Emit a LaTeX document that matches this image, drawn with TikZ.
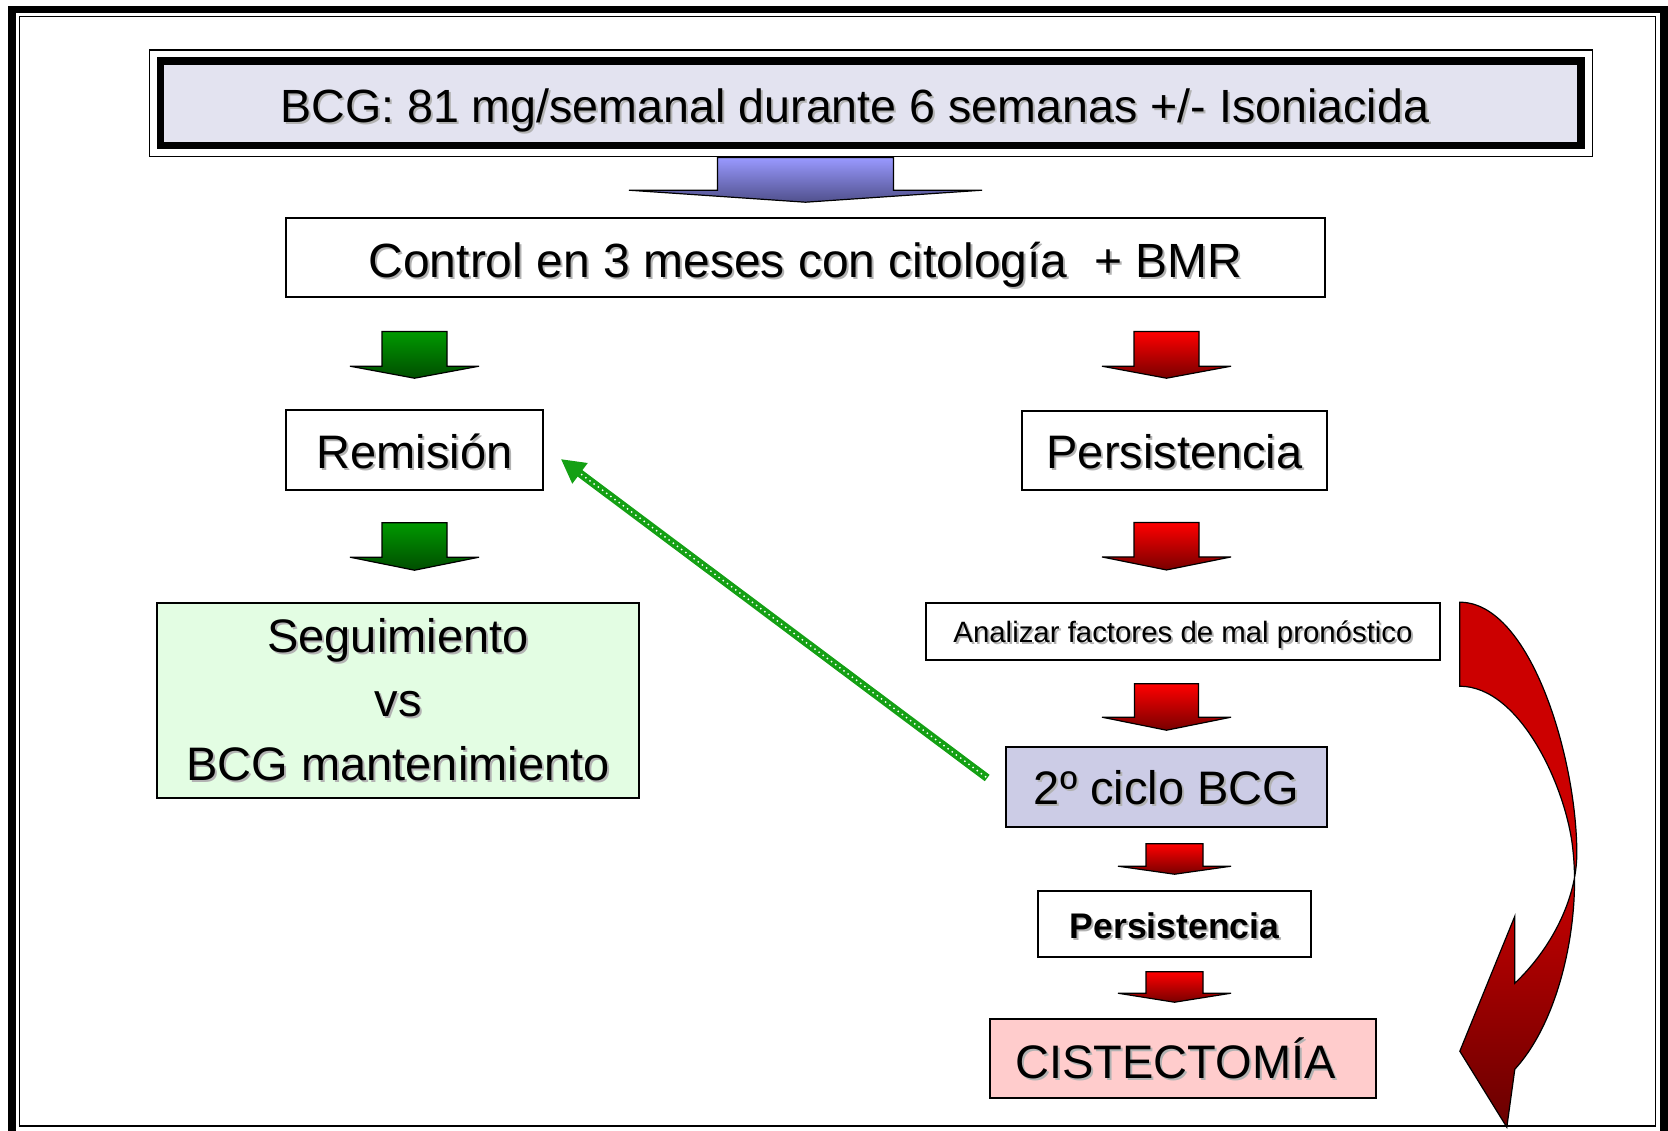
\documentclass[tikz,border=0pt]{standalone}
\usepackage{fontspec}
\setmainfont{Liberation Sans}
\usetikzlibrary{calc, arrows.meta}
\definecolor{lavbox}{RGB}{227,227,240}
\definecolor{ciclobox}{RGB}{204,204,230}
\definecolor{segbox}{RGB}{227,253,227}
\definecolor{cistbox}{RGB}{255,204,204}
\definecolor{bluetop}{RGB}{153,153,255}
\definecolor{bluebot}{RGB}{80,80,140}
\definecolor{grntop}{RGB}{0,153,0}
\definecolor{grnbot}{RGB}{0,77,0}
\definecolor{redtop}{RGB}{255,0,0}
\definecolor{redbot}{RGB}{120,0,0}
\definecolor{curvtop}{RGB}{204,0,0}
\definecolor{curvbot}{RGB}{105,0,0}
\definecolor{dotgrn}{RGB}{20,160,20}
\newcommand{\sh}[1]{\leavevmode\rlap{\kern1pt\raisebox{-1pt}{\color{black!30}#1}}#1}
% style, from, to, column, half shaft, half wing, head, gap above, gap below
\newcommand{\blkarrow}[9]{%
\draw[#1] ($(#4 |- #2.south)+(-#5,#8)$) -- ($(#4 |- #3.north)+(-#5,-#9-#7)$) -- ++(#5-#6,0)
  -- ($(#4 |- #3.north)+(0,-#9)$) -- ($(#4 |- #3.north)+(#6,-#9-#7)$) -- ++(#5-#6,0)
  -- ($(#4 |- #2.south)+(#5,#8)$) -- cycle;}
\tikzset{
  frame/.style={draw, line width=0.8pt, inner sep=0pt, font=\fontsize{23.5}{32}\selectfont},
  box/.style={frame, text height=18pt, text depth=0pt},
  blk/.style={draw, line width=0.6pt, top color=#1top, bottom color=#1bot},
  grnline/.style={draw=dotgrn, line width=4pt, -{Triangle[length=12pt,width=12pt]},
    postaction={draw=white, line width=1pt, line cap=round, dash pattern=on 0pt off 2.6pt, shorten >=12pt, shorten <=1pt, arrows=-}},
  curvarr/.style={draw, line width=0.6pt, top color=curvtop, bottom color=curvbot, middle color=curvtop}
}
\begin{document}
\begin{tikzpicture}[x=0.5pt, y=-0.5pt]
\useasboundingbox (0,0) rectangle (1668,1130);
\clip (0,0) rectangle (1668,1130);
\draw[line width=3.6pt] (12,9.5) rectangle (1664,1140);
\draw[line width=0.8pt] (19.5,16.5) rectangle (1655.5,1126);

\node[box, fill=lavbox, line width=3.6pt, minimum width=710.25pt, minimum height=42.25pt, text height=18.75pt, font=\fontsize{23.3}{28}\selectfont] (bcg) at (870.75,103.25) {\sh{BCG: 81 mg/semanal durante 6 semanas +/- Isoniacida}\kern16pt};
\draw[line width=0.6pt] ([shift={(-7.5,-7.5)}]bcg.north west) rectangle ([shift={(7.5,7.5)}]bcg.south east);
\node[box, minimum width=519.5pt, minimum height=39.5pt, text height=19.5pt, font=\fontsize{24}{29}\selectfont] (ctrl) at (805.5,257.5) {\sh{Control en 3 meses con citología\ \ + BMR}};
\node[box, minimum width=128.5pt, minimum height=40pt] (rem) at (414.5,450) {\sh{Remisión}};
\node[box, minimum width=152.5pt, minimum height=39.5pt] (pers) at (1174.5,450.5) {\sh{Persistencia}};
\node[frame, fill=segbox, align=center, minimum width=241pt, minimum height=97.5pt] (seg) at (398,700.5) {\sh{Seguimiento}\\\sh{vs}\\\sh{BCG mantenimiento}};
\node[box, minimum width=257pt, minimum height=28.5pt, text height=10.5pt, font=\fontsize{14.7}{18}\selectfont] (anal) at (1183,631.5) {\sh{Analizar factores de mal pronóstico}};
\node[box, fill=ciclobox, minimum width=160.5pt, minimum height=40pt, text height=17pt] (ciclo) at (1166.5,787) {\sh{2º ciclo BCG}};
\node[box, minimum width=136.5pt, minimum height=33pt, text height=14pt, font=\bfseries\fontsize{17.8}{22}\selectfont] (pers2) at (1174.5,924) {\sh{Persistencia}};
\node[box, fill=cistbox, minimum width=193pt, minimum height=39.5pt, text height=19.5pt] (cist) at (1183,1058.5) {\sh{CISTECTOMÍA}\kern7.5pt};

\blkarrow{blk=blue}{bcg}{ctrl}{ctrl}{88}{176.5}{12}{8.5}{15}
\blkarrow{blk=grn}{ctrl}{rem}{rem}{32.5}{64.5}{12}{33.75}{31}
\blkarrow{blk=grn}{rem}{seg}{rem}{32.5}{64.5}{13}{32}{32}
\blkarrow{blk=red}{ctrl}{pers}{ciclo}{32.5}{64.5}{12}{33.75}{32}
\blkarrow{blk=red}{pers}{anal}{ciclo}{32.5}{64.5}{13}{31.75}{32.25}
\blkarrow{blk=red}{anal}{ciclo}{ciclo}{32}{64.5}{13}{23}{16}
\blkarrow{blk=red}{ciclo}{pers2}{pers2}{28.5}{56.5}{8}{16}{16}
\blkarrow{blk=red}{pers2}{cist}{pers2}{28.5}{56.5}{9}{14}{16}

\draw[grnline] ([xshift=-9pt,yshift=4.5pt]ciclo.west) -- ([xshift=8.5pt,yshift=-4.5pt]rem.east);

\begin{scope}[shift={(anal.north east)}]
\draw[curvarr] (19,0) .. controls (90,0) and (136,157) .. (136,251) .. controls (136,297) and (110,347) .. (74,381)
  -- (74,314) -- (19,449) -- (66,525) -- (74,467) .. controls (120,417) and (140,317) .. (132,247)
  .. controls (126,187) and (80,84) .. (19,84) -- cycle;
\end{scope}
\end{tikzpicture}
\end{document}
